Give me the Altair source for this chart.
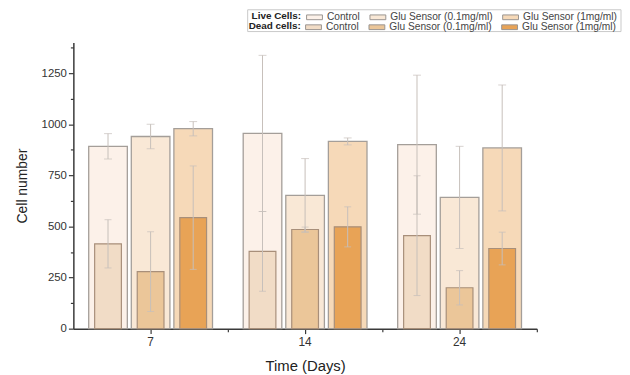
import altair as alt
import pandas as pd

days = ["7", "14", "24"]
groups = ["Control", "Glu Sensor (0.1mg/ml)", "Glu Sensor (1mg/ml)"]

# Live cells: mean and half error per day (rows) and group (columns)
live_mean = [[892, 940, 978], [955, 652, 916], [900, 642, 884]]
live_err = [[62, 60, 35], [382, 180, 17], [340, 250, 308]]
# Dead cells
dead_mean = [[415, 279, 543], [378, 485, 498], [455, 200, 392]]
dead_err = [[118, 195, 253], [195, 12, 98], [293, 84, 80]]

y_major = [0, 250, 500, 750, 1000, 1250]
y_minor = [125, 375, 625, 875, 1125, 1375]

live_colors = ["#fcf1e9", "#f9e8d6", "#f6d9b8"]
dead_colors = ["#f1dcc6", "#ebc699", "#e8a356"]


def table(means, errs):
    rows = []
    for i, d in enumerate(days):
        for j, g in enumerate(groups):
            m, e = means[i][j], errs[i][j]
            rows.append({"Day": d, "Group": g, "Mean": m, "Lo": m - e, "Hi": m + e})
    return pd.DataFrame(rows)


live = table(live_mean, live_err)
dead = table(dead_mean, dead_err)

FONT = "Liberation Sans"

x_main = alt.X(
    "Day:N", sort=days,
    scale=alt.Scale(paddingInner=0.173, paddingOuter=0.0865),
    axis=alt.Axis(title="Time (Days)", labelAngle=0, tickSize=5, labelPadding=3,
                  titleFontSize=15, titlePadding=11, labelFontSize=12),
)
x_none = alt.X("Day:N", sort=days, axis=None)
xo = alt.XOffset("Group:N", sort=groups,
                 scale=alt.Scale(domain=groups, paddingInner=0.093, paddingOuter=0.0465))

legend_common = dict(
    orient="none", direction="horizontal", titleOrient="left",
    symbolType="M-1,-0.3H1V0.3H-1Z", symbolSize=256,
    symbolStrokeColor="#9a9591", symbolStrokeWidth=1,
    labelFontSize=10.3, labelColor="#444", labelOffset=4,
    titleFontSize=10, titleFontWeight="bold", titleColor="#222", titlePadding=4,
    columnPadding=7, padding=0,
)

live_bars = alt.Chart(live).mark_bar(stroke="#a49e99", strokeWidth=1.3).encode(
    x=x_main,
    xOffset=xo,
    y=alt.Y("Mean:Q", scale=alt.Scale(domain=[0, 1400], nice=False),
            axis=alt.Axis(values=y_major, format="d", title="Cell number", tickSize=5,
                          labelPadding=2, titleFontSize=14, titlePadding=12,
                          labelFontSize=11.5)),
    fill=alt.Fill("Group:N", sort=groups,
                  scale=alt.Scale(domain=groups, range=live_colors),
                  legend=alt.Legend(title="Live Cells:", legendX=180, legendY=-34,
                                    **legend_common)),
)

dead_bars = alt.Chart(dead).mark_bar(width=27, stroke="#a88f7a", strokeWidth=1.2).encode(
    x=x_none,
    xOffset=xo,
    y=alt.Y("Mean:Q", axis=None),
    fill=alt.Fill("Group:N", sort=groups,
                  scale=alt.Scale(domain=groups, range=dead_colors),
                  legend=alt.Legend(title="Dead cells:", legendX=177, legendY=-24,
                                    **legend_common)),
)

err_color = "#c6bfba"


def errlayers(df, cap):
    rule = alt.Chart(df).mark_rule(color=err_color, strokeWidth=1).encode(
        x=x_none, xOffset=xo, y=alt.Y("Lo:Q", axis=None), y2="Hi:Q")
    lo = alt.Chart(df).mark_tick(color=err_color, size=cap, thickness=1).encode(
        x=x_none, xOffset=xo, y=alt.Y("Lo:Q", axis=None))
    hi = alt.Chart(df).mark_tick(color=err_color, size=cap, thickness=1).encode(
        x=x_none, xOffset=xo, y=alt.Y("Hi:Q", axis=None))
    return [rule, lo, hi]


minor_df = pd.DataFrame({"Day": days, "v": y_minor[:3]})
minor = alt.Chart(minor_df).mark_point(opacity=0).encode(
    x=alt.X("Day:N", sort=days,
            axis=alt.Axis(bandPosition=1.1047, labels=False, tickSize=3, domain=False,
                          title=None, orient="bottom", grid=False)),
    y=alt.Y("v:Q", axis=alt.Axis(values=y_minor, labels=False, tickSize=3,
                                 domain=False, title=None, orient="left", grid=False)),
)

# light frame around the two legend rows (decoration only)
frame = alt.Chart(pd.DataFrame({"k": [0]})).mark_rect(
    fill="white", fillOpacity=0, stroke="#c8c8c8", strokeWidth=1
).encode(x=alt.value(176), x2=alt.value(553), y=alt.value(-33), y2=alt.value(-11))

chart = alt.layer(
    frame, live_bars, dead_bars, *errlayers(live, 8), *errlayers(dead, 7), minor
).resolve_scale(fill="independent").resolve_axis(x="independent", y="independent").properties(
    width=468, height=289,
    padding={"left": 66, "top": 33, "right": 86, "bottom": 46},
    autosize=alt.AutoSizeParams(type="none"),
).configure(
    font=FONT,
).configure_view(strokeWidth=0, stroke="transparent").configure_axis(
    domainColor="#3a3a3a", domainWidth=1.5, tickColor="#3a3a3a", tickWidth=1.2,
    labelColor="#333", titleColor="#222", titleFontWeight="normal", grid=False,
    labelFont=FONT, titleFont=FONT,
).configure_legend(labelFont=FONT, titleFont=FONT)

chart.save("out.html", embed_options={"renderer": "svg", "actions": False})
